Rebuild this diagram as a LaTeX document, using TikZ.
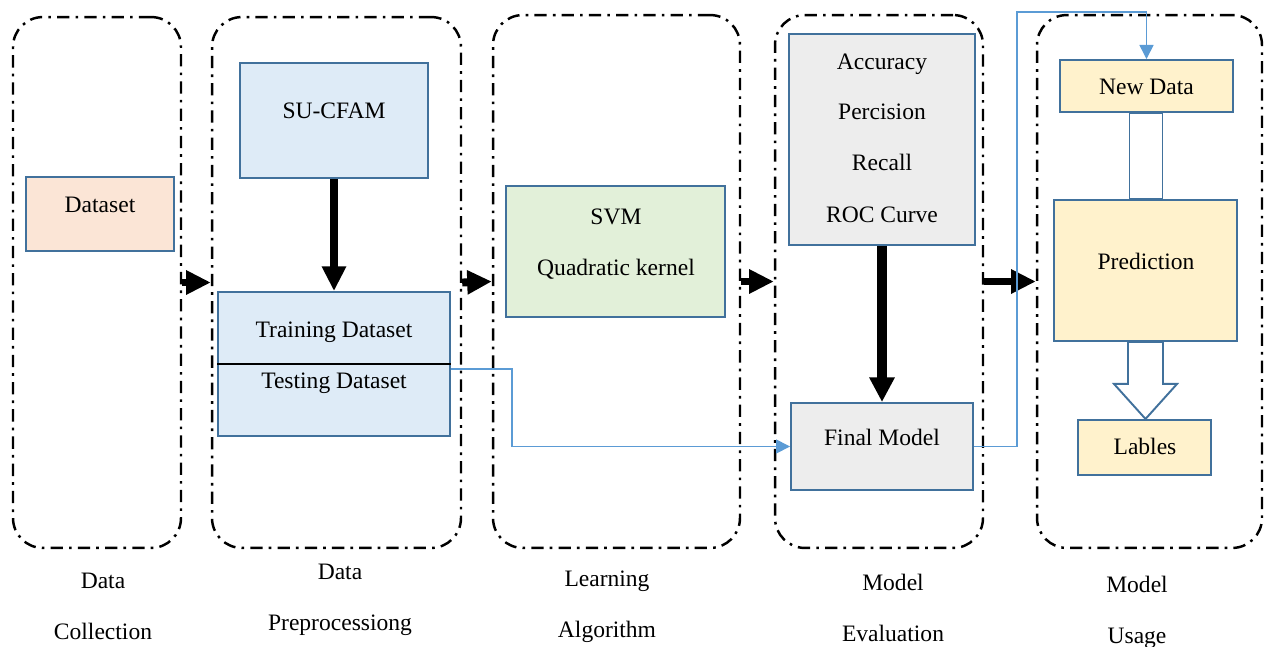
\documentclass[tikz,border=0pt]{standalone}
\usepackage{fontspec}
\setmainfont{Liberation Serif}
\usetikzlibrary{arrows.meta,positioning}
\definecolor{boxline}{HTML}{41719C}
\definecolor{linkblue}{HTML}{5B9BD5}
\definecolor{peach}{HTML}{FBE5D6}
\definecolor{paleblue}{HTML}{DEEBF7}
\definecolor{palegreen}{HTML}{E2F0D9}
\definecolor{palegray}{HTML}{EDEDED}
\definecolor{paleyellow}{HTML}{FFF2CC}
\tikzset{
  stage/.style  = {draw, line width=1.4pt, dash pattern=on 7pt off 3.5pt on 1.5pt off 3.5pt, rounded corners=17pt, rectangle},
  basic/.style  = {draw=boxline, line width=1.1pt, rectangle},
  txt/.style    = {font=\fontsize{13.4}{16}\selectfont, text height=0.75em, text depth=0.25em, yshift=-0.08cm},
  flow/.style   = {line width=4.5pt, -{Triangle[length=14pt,width=13pt]}},
  link/.style   = {draw=linkblue, line width=0.8pt, -{Triangle[length=8pt,width=8pt]}},
  hollow/.style = {draw=boxline, line width=1.1pt, fill=white}
}
\begin{document}
\begin{tikzpicture}[x=0.02cm, y=-0.02cm]
\useasboundingbox (0,0) rectangle (1264,646);

% the five stages
\node[stage, minimum width=3.36cm, minimum height=10.62cm] (c1) at (97,282.5) {};
\node[stage, minimum width=4.98cm, minimum height=10.62cm] (c2) at (336.5,282.5) {};
\node[stage, minimum width=4.94cm, minimum height=10.66cm] (c3) at (616.5,281.5) {};
\node[stage, minimum width=4.16cm, minimum height=10.66cm] (c4) at (879,281.5) {};
\node[stage, minimum width=4.5cm, minimum height=10.66cm] (c5) at (1149.5,281.5) {};

% boxes inside the stages
\node[basic, fill=peach, minimum width=2.96cm, minimum height=1.48cm] (data) at (100,214) {};
\node[basic, fill=paleblue, minimum width=3.76cm, minimum height=2.3cm] (sucfam) at (334,120.5) {};
\node[basic, fill=paleblue, minimum width=4.64cm, minimum height=2.88cm] (tt) at (334,364) {};
\node[basic, fill=palegreen, minimum width=4.38cm, minimum height=2.62cm] (svm) at (615.5,251.5) {};
\node[basic, fill=palegray, minimum width=3.72cm, minimum height=4.22cm] (eval) at (882,139.5) {};
\node[basic, fill=palegray, minimum width=3.64cm, minimum height=1.74cm] (final) at (882,446.5) {};
\node[basic, fill=paleyellow, minimum width=3.46cm, minimum height=1.04cm] (newdata) at (1146.5,86) {};
\node[basic, fill=paleyellow, minimum width=3.66cm, minimum height=2.82cm] (pred) at (1145.5,270.5) {};
\node[basic, fill=paleyellow, minimum width=2.66cm, minimum height=1.1cm] (labels) at (1144.5,447.5) {};
\draw[line width=0.6pt] (tt.west) -- (tt.east);

% texts
\begin{scope}[every node/.style={txt}]
\node (datatxt) at (100,204) {Dataset};
\node (sucfamtxt) at (334,110) {SU-CFAM};
\node (traintxt) at (334,329) {Training Dataset};
\node (testtxt) at (334,380) {Testing Dataset};
\node (svmtxt) at (616,216) {SVM};
\node (kerneltxt) at (616,267) {Quadratic kernel};
\node (acctxt) at (882,61) {Accuracy};
\node (pertxt) at (882,111) {Percision};
\node (rectxt) at (882,162) {Recall};
\node (roctxt) at (882,214) {ROC Curve};
\node (finaltxt) at (882,437) {Final Model};
\node (newtxt) at (1146.5,86) {New Data};
\node (predtxt) at (1146,261) {Prediction};
\node (labeltxt) at (1145,446) {Lables};

\node (l1a) at (103,580) {Data};
\node (l1b) at (103,631) {Collection};
\node (l2a) at (340,571) {Data};
\node (l2b) at (340,622) {Preprocessiong};
\node (l3a) at (607,578) {Learning};
\node (l3b) at (607,629) {Algorithm};
\node (l4a) at (893,582) {Model};
\node (l4b) at (893,633) {Evaluation};
\node (l5a) at (1137,584) {Model};
\node (l5b) at (1137,635) {Usage};
\end{scope}

% thick arrows between the stages
\draw[flow] (c1.east) -- (c2.west);
\draw[flow] (c2.east) -- (c3.west);
\draw[flow] (c3.east) -- (c4.west);
\draw[flow] (c4.east) -- (c5.west);
\draw[flow, line width=4pt] (sucfam.south) -- (tt.north);
\draw[flow, line width=5.7pt, -{Triangle[length=14pt,width=13.6pt]}] (eval.south) -- (final.north);

% thin blue links
\draw[link] ([yshift=-0.1cm]tt.east) -- ++(61,0) |- (final.west);
\draw[link] (final.east) -| (1017,12) -| (newdata.north);

% hollow arrows in the last stage
\draw[hollow] ([xshift=-0.34cm]newdata.south) rectangle ([xshift=0.34cm]pred.north);
\draw[hollow] ([xshift=-0.35cm]pred.south) -- ++(0,42) -- ++(-14,0) -- ++(31.5,35)
  -- ++(31.5,-35) -- ++(-14,0) -- ([xshift=0.35cm]pred.south) -- cycle;
\end{tikzpicture}
\end{document}
